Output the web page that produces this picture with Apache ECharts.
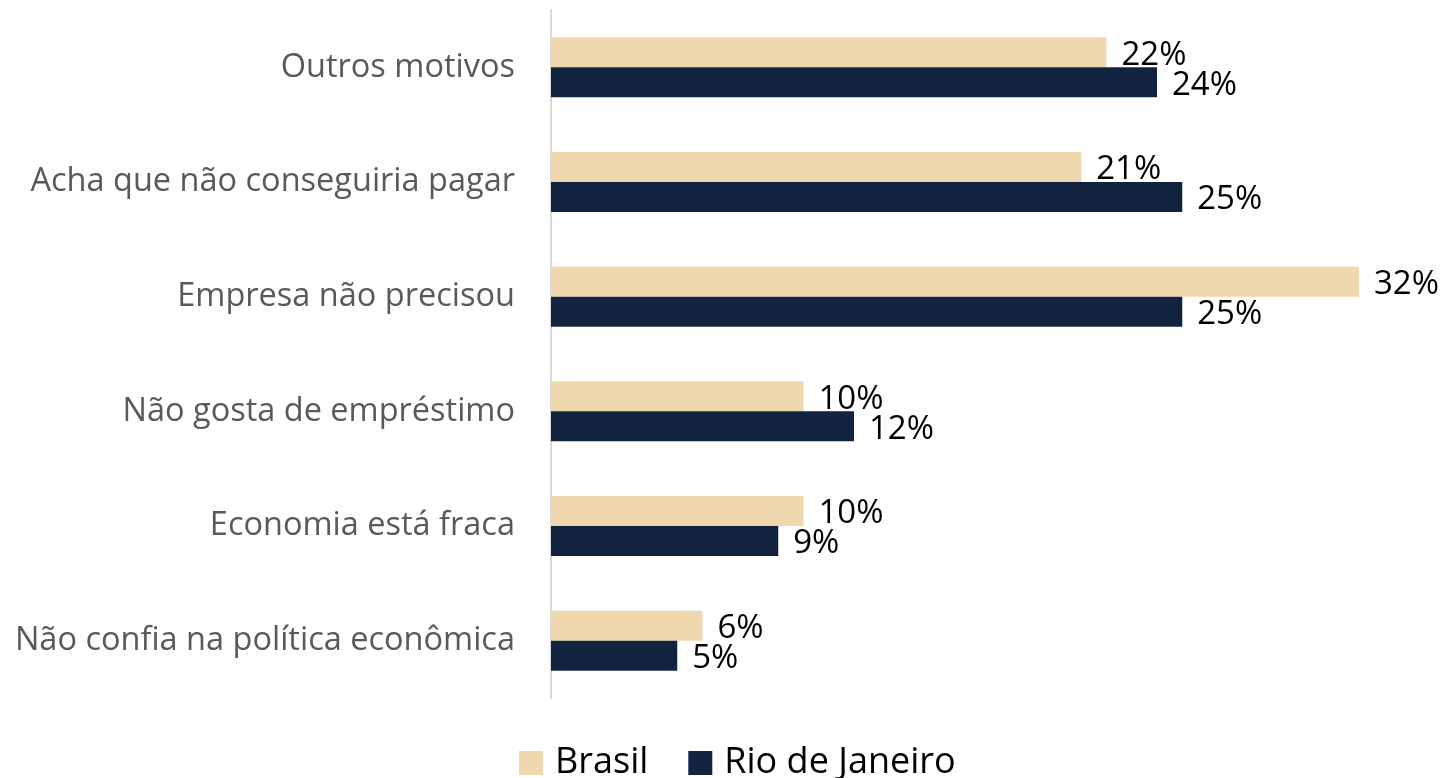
<!DOCTYPE html>
<html>
<head>
<meta charset="utf-8">
<script src="https://cdn.jsdelivr.net/npm/echarts@6/dist/echarts.min.js"></script>
<style>
  html, body { margin: 0; padding: 0; background: #fff; }
  #main { width: 1447px; height: 778px; }
</style>
</head>
<body>
<div id="main"></div>
<script>
// dados (de cima para baixo)
var categorias = [
  'Outros motivos',
  'Acha que não conseguiria pagar',
  'Empresa não precisou',
  'Não gosta de empréstimo',
  'Economia está fraca',
  'Não confia na política econômica'
];
var brasil = [22, 21, 32, 10, 10, 6];
var rioDeJaneiro = [24, 25, 25, 12, 9, 5];

var fonte = '"Open Sans", sans-serif';

var myChart = echarts.init(document.getElementById('main'));

var rotulo = {
  show: true,
  position: 'right',
  distance: 15,
  offset: [0, 3],
  formatter: '{c}%',
  color: '#000',
  fontFamily: fonte,
  fontSize: 33
};

var option = {
  animation: false,
  grid: { left: 551, right: 88, top: 10, bottom: 80 },
  legend: {
    bottom: -8,
    left: 514,
    itemWidth: 24,
    itemHeight: 24,
    itemGap: 40,
    icon: 'rect',
    textStyle: { fontFamily: fonte, fontSize: 36, color: '#000', padding: [0, 0, 0, 7] },
    data: ['Brasil', 'Rio de Janeiro']
  },
  xAxis: {
    type: 'value',
    min: 0,
    max: 32,
    show: false
  },
  yAxis: {
    type: 'category',
    inverse: true,
    data: categorias,
    axisLine: { lineStyle: { color: '#d9d9d9', width: 2 } },
    axisTick: { show: false },
    axisLabel: {
      margin: 36,
      color: '#595959',
      fontFamily: fonte,
      fontSize: 32.5,
      padding: [6, 0, 0, 0]
    }
  },
  series: [
    {
      name: 'Brasil',
      type: 'bar',
      data: brasil,
      barWidth: 30,
      barGap: '0%',
      itemStyle: { color: '#EFD8AE' },
      label: rotulo
    },
    {
      name: 'Rio de Janeiro',
      type: 'bar',
      data: rioDeJaneiro,
      barWidth: 30,
      barGap: '0%',
      itemStyle: { color: '#12233F' },
      label: rotulo
    }
  ]
};

myChart.setOption(option);
window.onresize = function () {
  myChart.resize();
};
</script>
</body>
</html>
